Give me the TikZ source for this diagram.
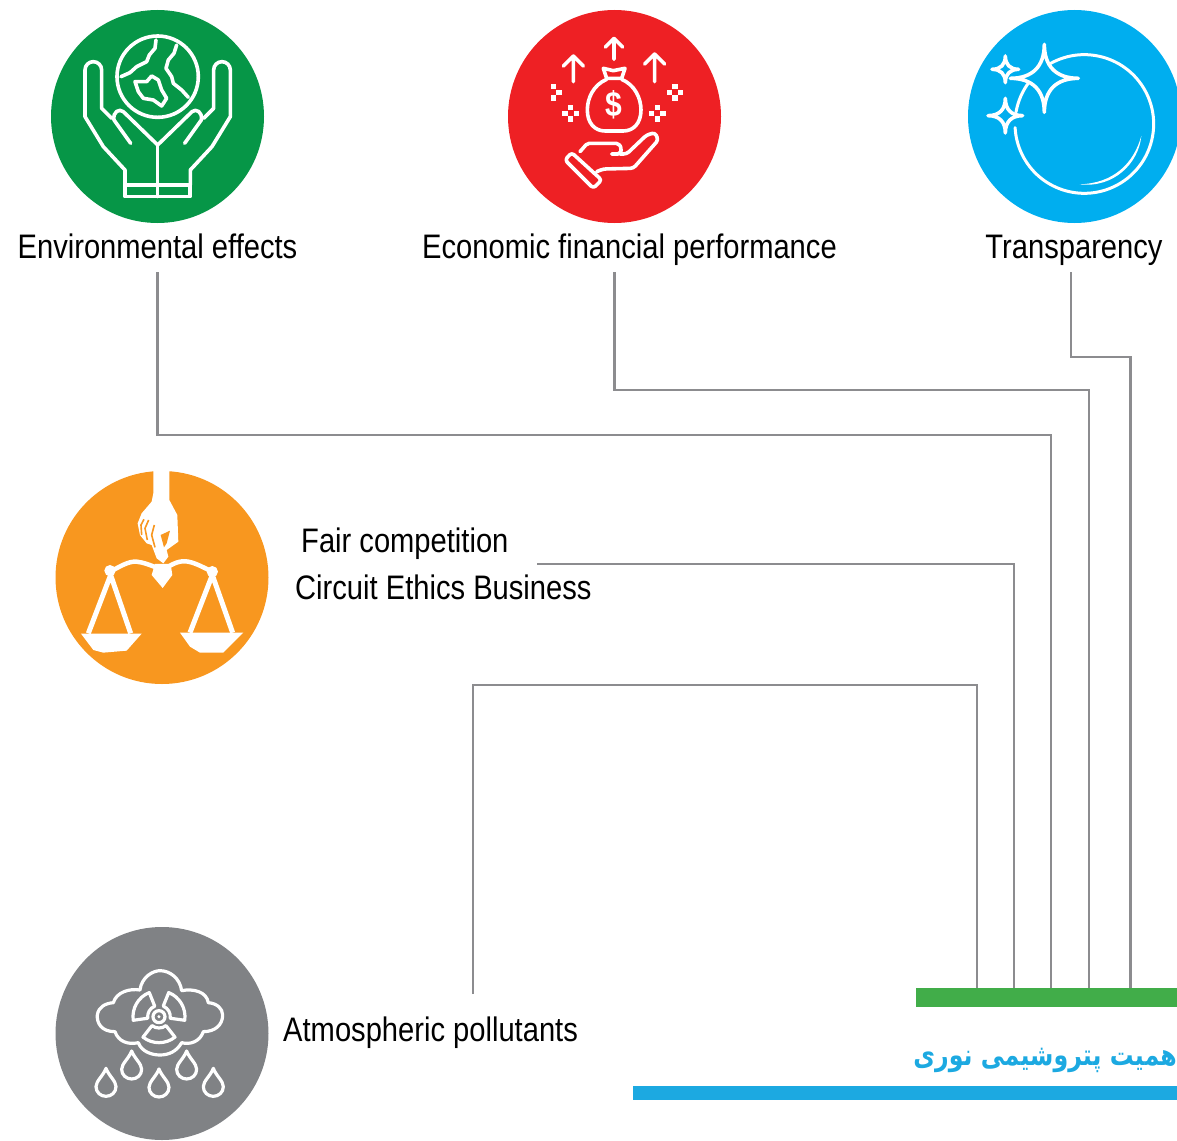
\documentclass[tikz,border=0pt]{standalone}
\usepackage{fontspec}
\setmainfont[FakeStretch=0.857]{Liberation Sans}
\newfontfamily\arabicfont[Script=Arabic,FakeStretch=0.8]{DejaVu Sans}
\TeXXeTstate=1
\usepackage{xcolor}
\usetikzlibrary{positioning,calc}
\definecolor{envgreen}{HTML}{069647}
\definecolor{econred}{HTML}{EE2024}
\definecolor{transblue}{HTML}{00AEEF}
\definecolor{fairorange}{HTML}{F8971F}
\definecolor{atmosgrey}{HTML}{808285}
\definecolor{wiregrey}{HTML}{8C8C8F}
\definecolor{bargreen}{HTML}{41AD49}
\definecolor{barblue}{HTML}{1CA9E1}
\tikzset{
    badge/.style={circle,minimum size=213pt,inner sep=0pt},
    caption/.style={inner sep=0pt,minimum height=50pt,text height=26pt,text depth=4pt,font=\fontsize{34}{40}\selectfont},
    wire/.style={draw=wiregrey,line width=2.6pt},
    bar/.style={inner sep=0pt,anchor=north west},
    icon/.style={draw=white,line width=3.6pt,line join=round,line cap=round},
    zoomed/.style={scale=0.3333}
}
\begin{document}
\begin{tikzpicture}[x=1pt,y=-1pt]
    \useasboundingbox (0,0) rectangle (1177,1140);
    % badges
    \node[badge,fill=envgreen] (envbadge) at (157.5,116.5) {};
    \node[badge,fill=econred] (econbadge) at (614.5,116.5) {};
    \node[badge,fill=transblue] (transbadge) at (1074.5,116.5) {};
    \node[badge,fill=fairorange] (fairbadge) at (162,577.5) {};
    \node[badge,fill=atmosgrey] (atmosbadge) at (162,1033.5) {};

    % captions
    \node[caption] (envlabel) at (157.5,247) {Environmental effects};
    \node[caption] (econlabel) at (629.5,247) {Economic financial performance};
    \node[caption] (translabel) at (1074,247) {Transparency};
    \node[caption,anchor=west] (fairlabel) at (301,541) {Fair competition};
    \node[caption,anchor=west] (ethicslabel) at (295,588) {Circuit Ethics Business};
    \node[caption,anchor=west] (atmoslabel) at (283,1030) {Atmospheric pollutants};

    % bars and title
    \node[bar,fill=bargreen,minimum width=261pt,minimum height=19pt] (greenbar) at (916,988) {};
    \node[bar,fill=barblue,minimum width=544pt,minimum height=14pt] (bluebar) at (633,1086) {};
    \node[anchor=east,inner sep=0pt,text=barblue,font=\arabicfont\bfseries\fontsize{29.6}{32}\selectfont] (titlelabel) at (1177,1060) {\beginR همیت پتروشیمی نوری\endR};

    % connectors
    \coordinate (envdrop) at (1051,435);
    \coordinate (econdrop) at (1089,390);
    \coordinate (transdrop) at (1130.5,357);
    \coordinate (fairstart) at (537,564);
    \coordinate (fairdrop) at (1014,564);
    \coordinate (atmosstart) at (473,994);
    \coordinate (atmosdrop) at (977,685);
    \draw[wire] (envlabel.south) |- (envdrop) -- (envdrop |- greenbar.north);
    \draw[wire] (econlabel.south -| econbadge.south) |- (econdrop) -- (econdrop |- greenbar.north);
    \draw[wire] ([xshift=-3pt]translabel.south) |- (transdrop) -- (transdrop |- greenbar.north);
    \draw[wire] (fairstart) -- (fairdrop) -- (fairdrop |- greenbar.north);
    \draw[wire] (atmosstart) |- (atmosdrop) -- (atmosdrop |- greenbar.north);

    % hands and globe
    \begin{scope}[shift={(40,0)},zoomed]
        \draw[icon] (353,230) circle (122);
        \draw[icon] (348,120) -- (345,145) -- (328,165) -- (320,185) -- (290,200) -- (270,218) -- (243,230);
        \draw[icon] (410,135) -- (402,160) -- (385,180) -- (378,205) -- (395,230) -- (400,250) -- (425,270) -- (445,292);
        \draw[icon] (285,245) -- (320,245) -- (335,228) -- (355,240) -- (365,270) -- (380,295) -- (365,318) -- (340,300) -- (310,295) -- (295,275) -- cycle;
        \draw[icon] (255,555) rectangle (450,590);
        \draw[icon] (353,435) -- (353,590);
        \foreach \side in {1,-1} {
            \begin{scope}[shift={(353,0)},xscale=\side]
                \draw[icon] (-98,555) -- (-98,510) -- (-163,440) -- (-218,350) -- (-218,210)
                    arc[start angle=180,end angle=360,radius=25] -- (-168,325) -- (-138,355);
                \draw[icon] (-81,430) -- (-131,360) .. controls (-135,335) and (-115,325) .. (-103,335) -- (0,435);
            \end{scope}
        }
    \end{scope}

    % money bag on a hand
    \begin{scope}[shift={(500,0)},zoomed]
        \foreach \x/\ytop/\ybot/\head in {342/115/178/26,220/168/245/30,464/162/245/30}
        \draw[icon] (\x,\ybot) -- (\x,\ytop) (\x-\head,\ytop+\head) -- (\x,\ytop) -- (\x+\head,\ytop+\head);
        \draw[icon] (310,205) -- (340,212) -- (375,205) -- (365,235) -- (320,235) -- cycle;
        \draw[icon] (320,238) .. controls (280,255) and (262,295) .. (262,330) .. controls (262,370) and (285,393) .. (315,393)
            -- (370,393) .. controls (400,393) and (423,370) .. (423,330) .. controls (423,295) and (405,255) .. (365,238);
        \node[text=white,inner sep=0pt,font=\bfseries\fontsize{35}{35}\selectfont] (dollar) at (342,315) {\$};
        % sparkles
        \foreach \x/\y in {212/340,472/340,525/277}
        \foreach \dx/\dy in {-17/0,17/0,0/-17,0/17}
        \fill[white] (\x+\dx-8,\y+\dy-8) rectangle (\x+\dx+8,\y+\dy+8);
        \foreach \dx/\dy in {17/0,0/-17,0/17}
        \fill[white] (160+\dx-8,277+\dy-8) rectangle (160+\dx+8,277+\dy+8);
        % hand
        \draw[icon,rounded corners=3pt] (215,458) -- (305,540) -- (280,565) -- (195,480) -- cycle;
        \draw[icon,rounded corners=2pt] (240,455) -- (262,430) -- (355,430) -- (365,445) -- (360,462) -- (335,462);
        \draw[icon,rounded corners=3pt] (360,462) -- (380,462) -- (440,405) -- (465,398) -- (475,420) -- (400,505) -- (310,507) -- (290,515);
    \end{scope}

    % crystal ball with glints
    \begin{scope}[shift={(957,0)},zoomed]
        \def\glint#1#2#3{
            \draw[icon] (#1,#2-#3) .. controls (#1,#2-.35*#3) and (#1+.35*#3,#2) .. (#1+#3,#2)
                .. controls (#1+.35*#3,#2) and (#1,#2+.35*#3) .. (#1,#2+#3)
                .. controls (#1,#2+.35*#3) and (#1-.35*#3,#2) .. (#1-#3,#2)
                .. controls (#1-.35*#3,#2) and (#1,#2-.35*#3) .. (#1,#2-#3);
        }
        \draw[icon,line width=3pt] (382,372) ++(-119:208) arc[start angle=-119,end angle=177,radius=208];
        \draw[icon,line width=3pt] (382,372) ++(190:208) arc[start angle=190,end angle=217,radius=208];
        \fill[white] (553,408) .. controls (545,490) and (470,565) .. (368,553) .. controls (470,550) and (530,490) .. (553,408);
        \glint{262}{235}{102}
        \glint{145}{208}{40}
        \glint{145}{347}{52}
    \end{scope}

    % scales held by a hand
    \begin{scope}[shift={(40,460)},zoomed]
        \fill[white] (340,33) -- (388,33) -- (388,120) -- (412,165) -- (415,245) -- (380,270) -- (385,290) -- (370,310)
            -- (350,295) -- (335,255) -- (320,250) -- (300,225) -- (293,190) -- (305,160) -- (335,125) -- (340,100) -- cycle;
        \draw[fairorange,line width=1.6pt] (305,225) -- (303,195) -- (312,178);
        \draw[fairorange,line width=1.6pt] (322,240) -- (315,205) -- (326,180);
        \draw[fairorange,line width=1.6pt] (345,262) -- (335,225) -- (343,195);
        \fill[fairorange] (362,225) -- (390,212) -- (380,250) -- (372,262) -- cycle;
        \draw[white,line width=4.5pt] (210,335) .. controls (240,320) and (265,303) .. (290,305) .. controls (310,307) and (330,315) .. (368,330)
            .. controls (400,310) and (420,300) .. (445,305) .. controls (470,310) and (495,325) .. (517,335);
        \fill[white] (210,332) circle (17) (517,335) circle (17);
        \fill[white] (345,312) -- (392,312) -- (397,345) -- (368,384) -- (335,345) -- cycle;
        \draw[white,line width=5pt] (145,520) -- (212,345) -- (272,520);
        \draw[white,line width=5pt] (450,518) -- (517,345) -- (578,518);
        \fill[white] (123,521) -- (305,521) -- (260,572) -- (190,578) -- (160,570) -- cycle;
        \fill[white] (420,518) -- (610,518) -- (550,578) -- (480,578) -- (450,560) -- cycle;
    \end{scope}

    % cloud with radiation sign and drops
    \begin{scope}[shift={(40,920)},zoomed]
        \draw[icon,line width=3.2pt] (225,335) .. controls (185,335) and (170,310) .. (172,285) .. controls (175,262) and (195,250) .. (220,248)
            .. controls (230,215) and (270,205) .. (300,210) .. controls (305,170) and (340,152) .. (360,152)
            .. controls (390,152) and (420,175) .. (425,212) .. controls (460,205) and (500,215) .. (505,248)
            .. controls (530,250) and (548,265) .. (548,285) .. controls (548,315) and (525,335) .. (490,335)
            .. controls (480,365) and (450,375) .. (425,368) .. controls (410,395) and (385,405) .. (360,405)
            .. controls (335,405) and (305,395) .. (295,368) .. controls (265,375) and (235,365) .. (225,335) -- cycle;
        \draw[icon,line width=3.2pt] (357,290) circle (18);
        \fill[white] (357,290) circle (5);
        \foreach \a in {90,210,330}
        \draw[icon,line width=3.2pt] (357,290) ++(\a-38:34) -- ++(\a-38:44) arc[start angle=\a-38,end angle=\a+38,radius=78]
            -- ++(\a+38:-44) arc[start angle=\a+38,end angle=\a-38,radius=34];
        \foreach \x/\t in {198/445,275/393,357/447,440/393,520/445}
        \draw[icon,line width=3.2pt] (\x,\t) .. controls (\x-8,\t+22) and (\x-30,\t+38) .. (\x-30,\t+55) .. controls (\x-30,\t+72) and (\x-16,\t+84) .. (\x,\t+84)
            .. controls (\x+16,\t+84) and (\x+30,\t+72) .. (\x+30,\t+55) .. controls (\x+30,\t+38) and (\x+8,\t+22) .. (\x,\t) -- cycle;
    \end{scope}
\end{tikzpicture}
\end{document}
